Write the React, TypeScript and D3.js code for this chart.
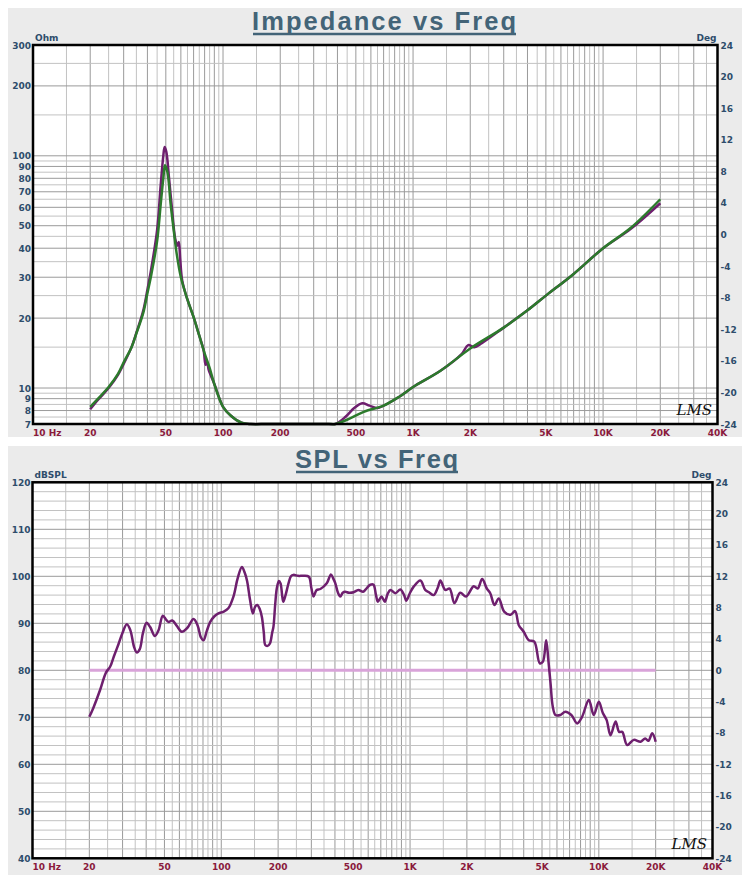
import React from 'react';
import * as d3 from 'd3';

// ---------- DATA ----------
const freqTickValues = [10, 20, 50, 100, 200, 500, 1000, 2000, 5000, 10000, 20000, 40000];
const freqTickLabels = ['10 Hz', '20', '50', '100', '200', '500', '1K', '2K', '5K', '10K', '20K', '40K'];
const ohmTickValues = [7, 8, 9, 10, 20, 30, 40, 50, 60, 70, 80, 90, 100, 200, 300];
const degTickValues = [24, 20, 16, 12, 8, 4, 0, -4, -8, -12, -16, -20, -24];
const dbTickValues = [120, 110, 100, 90, 80, 70, 60, 50, 40];

// Impedance (green) curve
const impGreenFreq = [20, 22, 25, 28, 30, 33, 35, 38, 40, 42, 45, 47, 48.5, 49.5, 51, 53, 55, 57, 60, 65, 70, 75, 80, 85, 90, 100, 110, 125, 140, 170, 220, 300, 360, 390, 466, 550, 700, 850, 1000, 1400, 2000, 3000, 4000, 5000, 7000, 10000, 14000, 20000];
const impGreenOhm = [8.3, 9.0, 10.1, 11.5, 12.9, 15.0, 17.2, 21, 25.6, 31, 43, 62, 80, 91, 85, 62, 48, 38, 30, 24, 20.2, 16.8, 14.1, 12.2, 10.4, 8.3, 7.6, 7.1, 6.8, 6.5, 6.4, 6.6, 6.9, 7.0, 7.4, 7.9, 8.4, 9.2, 10.1, 11.9, 14.8, 18.2, 21.6, 25, 31, 40, 49, 65];

// Impedance (purple) curve
const impPurpleFreq = [20, 22, 25, 28, 30, 33, 35, 38, 40, 42, 45, 47, 48.5, 49.3, 50.3, 52, 54, 56, 57.5, 58.5, 59.5, 61, 65, 70, 75, 79, 81, 82.5, 84, 86, 90, 100, 110, 125, 140, 170, 220, 300, 360, 390, 440, 490, 540, 590, 650, 700, 850, 1000, 1400, 1800, 1950, 2100, 2300, 3000, 4000, 5000, 7000, 10000, 14000, 20000];
const impPurpleOhm = [8.1, 8.9, 10.0, 11.4, 12.7, 15.0, 17.3, 21.5, 26.5, 33, 48, 75, 100, 109, 104, 80, 58, 44, 41, 42.5, 36, 29, 24, 20.2, 16.8, 14.6, 12.6, 12.9, 12.0, 11.4, 10.4, 8.3, 7.6, 7.1, 6.8, 6.5, 6.4, 6.6, 6.9, 7.0, 7.5, 8.2, 8.6, 8.4, 8.2, 8.4, 9.2, 10.1, 11.9, 14.0, 15.3, 15.0, 15.6, 18.2, 21.6, 25, 31, 40, 48.5, 62.5];

// SPL curve
const splFreq = [20, 21, 22.8, 24.5, 25.8, 27, 28.5, 30, 31.6, 33, 34.5, 35.7, 37, 38.5, 40.2, 42, 44.5, 46.5, 49, 51, 52.5, 55, 58, 61.8, 66, 71.3, 75, 78, 80.5, 84, 87.4, 92, 96.6, 103, 109, 116, 122, 128.5, 133, 137, 142, 147, 151, 155, 160, 164, 168, 171, 176, 181, 186, 189, 193, 197, 202, 206, 210, 213, 219, 227, 234, 241, 255, 273, 291, 300, 308, 320, 335, 362, 381, 392, 402, 415, 427, 440, 453, 475, 502, 532, 564, 590, 616, 640, 660, 676, 706, 735, 760, 787, 835, 889, 930, 955, 1000, 1045, 1134, 1203, 1260, 1334, 1400, 1448, 1536, 1620, 1718, 1844, 1980, 2173, 2280, 2410, 2550, 2660, 2800, 2951, 3150, 3404, 3600, 3767, 4000, 4253, 4550, 4863, 5050, 5260, 5400, 5548, 5700, 5888, 6250, 6650, 7150, 7675, 8150, 8850, 9400, 10000, 10500, 11000, 11530, 12270, 12800, 13300, 14130, 15300, 16640, 17600, 18300, 19190, 20000];
const splDb = [70.1, 72, 75.8, 79.5, 80.8, 83, 85.5, 88, 89.8, 88.5, 85, 83.8, 84.5, 88, 90.1, 89.2, 87.3, 88.5, 91.6, 90.8, 90.3, 90.6, 89.5, 88.2, 89, 90.9, 89.5, 87, 86.4, 88.5, 90.3, 91.5, 92.1, 92.5, 93.2, 95.7, 99.5, 102, 100.8, 99, 95, 92.1, 93.5, 93.9, 93, 91.4, 88, 85.4, 85.2, 85.7, 88, 89.3, 94, 97.5, 99, 98.5, 96, 94.6, 96, 98.5, 100, 100.3, 100.1, 100.1, 99.9, 97.5, 95.7, 97.1, 97.3, 98.5, 100.4, 99.5, 98.5, 96.5, 95.7, 96.5, 96.7, 96.5, 96.6, 97.1, 96.7, 97.5, 98.2, 98.2, 96, 94.6, 95.7, 94.6, 96.2, 97.1, 96.4, 97.2, 96, 94.8, 96.5, 97.8, 99.1, 97.1, 96.6, 96, 97.5, 99.1, 97.1, 97.4, 94.3, 96.5, 95.7, 97.9, 97.4, 99.4, 97.4, 96.4, 93.9, 95.3, 92.5, 91.8, 92.6, 89.6, 88.2, 86.4, 86.1, 81.5, 81.8, 86.4, 82.2, 77.2, 72.3, 70.5, 70.5, 71.2, 70.5, 68.7, 70.1, 73.7, 70.5, 73.3, 70.9, 69.4, 66.2, 69.1, 66.9, 66.9, 64.1, 65.2, 64.8, 65.5, 65, 66.6, 64.8];

// Phase (flat) line in SPL chart
const phaseFreq = [20, 20000];
const phaseDeg = [0, 0];

// ---------- HELPERS ----------
function freqGrid() {
  const out: { v: number; major: boolean }[] = [];
  for (const d of [10, 100, 1000, 10000]) {
    for (let m = 1; m < 10; m += 0.5) {
      const v = d * m;
      if (v <= 40000) out.push({ v, major: m % 1 === 0 });
    }
  }
  return out;
}
function ohmGrid() {
  const out: { v: number; major: boolean }[] = [];
  for (const d of [1, 10, 100]) {
    for (let m = 1; m < 10; m += 0.5) {
      const v = d * m;
      if (v >= 7 && v <= 300) out.push({ v, major: m % 1 === 0 });
    }
  }
  return out;
}
function dbGrid() {
  const out: { v: number; major: boolean }[] = [];
  for (let v = 40; v <= 120; v += 2) out.push({ v, major: v % 10 === 0 });
  return out;
}

const LABEL_FONT = 'DejaVu Sans, Verdana, sans-serif';
const AXIS_BLUE = '#2e4d6b';
const AXIS_RED = '#8a1a3c';
const TITLE_COL = '#436478';
const PURPLE = '#6e1f6e';
const GREEN = '#2c7a2c';
const PINK = '#d9a3d9';
const GRID_MAJOR = '#9a9a9a';
const GRID_MINOR = '#c2c2c2';

type PanelProps = {
  top: number;
  title: string;
  titleX0: number;
  titleX1: number;
  unit: string;
  plot: { x0: number; x1: number; y0: number; y1: number };
  yScale: any;
  yGrid: { v: number; major: boolean }[];
  yTicks: number[];
  children?: any;
};

function Panel(p: PanelProps & { x: any }) {
  const { plot, yScale, x } = p;
  const deg = d3.scaleLinear().domain([-24, 24]).range([plot.y1, plot.y0]);
  const fg = freqGrid();
  return (
    <g>
      <rect x={8} y={p.top} width={734} height={429} fill="#ebebeb" />
      <text
        x={p.titleX0}
        y={p.top + 22}
        textLength={p.titleX1 - p.titleX0}
        lengthAdjust="spacing"
        fontFamily="Liberation Sans, Arial, sans-serif"
        fontWeight="bold"
        fontSize={25.5}
        fill={TITLE_COL}
      >
        {p.title}
      </text>
      <line x1={p.titleX0 + 1} x2={p.titleX1} y1={p.top + 26} y2={p.top + 26} stroke={TITLE_COL} strokeWidth={2.6} />
      <rect x={plot.x0} y={plot.y0} width={plot.x1 - plot.x0} height={plot.y1 - plot.y0} fill="#ffffff" />
      {fg.map((g, i) => (
        <line key={'vx' + i} x1={x(g.v)} x2={x(g.v)} y1={plot.y0} y2={plot.y1} stroke={g.major ? GRID_MAJOR : GRID_MINOR} strokeWidth={1} />
      ))}
      {p.yGrid.map((g, i) => (
        <line key={'hy' + i} x1={plot.x0} x2={plot.x1} y1={yScale(g.v)} y2={yScale(g.v)} stroke={g.major ? GRID_MAJOR : GRID_MINOR} strokeWidth={1} />
      ))}
      {p.children}
      <rect x={plot.x0} y={plot.y0} width={plot.x1 - plot.x0} height={plot.y1 - plot.y0} fill="none" stroke="#000" strokeWidth={2.5} />
      {/* left ticks */}
      {p.yTicks.map((v, i) => (
        <text key={'yl' + i} x={plot.x0 - 2} y={yScale(v) + 3.5} textAnchor="end" fontFamily={LABEL_FONT} fontWeight="bold" fontSize={9} fill={AXIS_BLUE}>
          {v}
        </text>
      ))}
      <text x={plot.x0 + 2} y={plot.y0 - 4} fontFamily={LABEL_FONT} fontWeight="bold" fontSize={9} fill={AXIS_BLUE}>
        {p.unit}
      </text>
      {/* right ticks */}
      {degTickValues.map((v, i) => (
        <text key={'dl' + i} x={plot.x1 + 3} y={deg(v) + 3.5} fontFamily={LABEL_FONT} fontWeight="bold" fontSize={9} fill={AXIS_BLUE}>
          {v}
        </text>
      ))}
      <text x={plot.x1 - 1} y={plot.y0 - 4} textAnchor="end" fontFamily={LABEL_FONT} fontWeight="bold" fontSize={9} fill={AXIS_BLUE}>
        Deg
      </text>
      {/* bottom ticks */}
      {freqTickValues.map((v, i) => (
        <text
          key={'xl' + i}
          x={x(v)}
          y={plot.y1 + 12}
          textAnchor={i === 0 ? 'start' : 'middle'}
          fontFamily={LABEL_FONT}
          fontWeight="bold"
          fontSize={9}
          fill={AXIS_RED}
        >
          {freqTickLabels[i]}
        </text>
      ))}
      <text x={plot.x1 - 41} y={plot.y1 - 9} fontFamily="DejaVu Serif, serif" fontStyle="italic" fontSize={15} fill="#111">
        LMS
      </text>
    </g>
  );
}

export default function App() {
  // Top panel geometry
  const tp = { x0: 33, x1: 717.5, y0: 45, y1: 424 };
  const xTop = d3.scaleLog().domain([10, 40000]).range([tp.x0, tp.x1]);
  const yOhm = d3.scaleLog().domain([7, 300]).range([tp.y1, tp.y0]).clamp(true);

  // Bottom panel geometry
  const bp = { x0: 32.5, x1: 712.5, y0: 482.3, y1: 858.3 };
  const xBot = d3.scaleLog().domain([10, 40000]).range([bp.x0, bp.x1]);
  const yDb = d3.scaleLinear().domain([40, 120]).range([bp.y1, bp.y0]);
  const degBot = d3.scaleLinear().domain([-24, 24]).range([bp.y1, bp.y0]);

  const impLine = d3
    .line<[number, number]>()
    .x((d) => xTop(d[0]))
    .y((d) => yOhm(d[1]))
    .curve(d3.curveCatmullRom.alpha(0.5));
  const splLine = d3
    .line<[number, number]>()
    .x((d) => xBot(d[0]))
    .y((d) => yDb(d[1]))
    .curve(d3.curveCatmullRom.alpha(0.5));
  const phLine = d3
    .line<[number, number]>()
    .x((d) => xBot(d[0]))
    .y((d) => degBot(d[1]));

  const purplePts = impPurpleFreq.map((f, i) => [f, impPurpleOhm[i]] as [number, number]);
  const greenPts = impGreenFreq.map((f, i) => [f, impGreenOhm[i]] as [number, number]);
  const splPts = splFreq.map((f, i) => [f, splDb[i]] as [number, number]);
  const phPts = phaseFreq.map((f, i) => [f, phaseDeg[i]] as [number, number]);

  return (
    <svg width={750} height={882} style={{ position: 'absolute', left: 0, top: 0 }}>
      <rect x={0} y={0} width={750} height={882} fill="#ffffff" />
      <Panel
        top={8}
        title="Impedance vs Freq"
        titleX0={252}
        titleX1={516}
        unit="Ohm"
        plot={tp}
        x={xTop}
        yScale={yOhm}
        yGrid={ohmGrid()}
        yTicks={ohmTickValues}
      >
        <path d={impLine(purplePts) || ''} fill="none" stroke={PURPLE} strokeWidth={2.5} />
        <path d={impLine(greenPts) || ''} fill="none" stroke={GREEN} strokeWidth={2.5} />
      </Panel>
      <Panel
        top={446}
        title="SPL vs Freq"
        titleX0={295}
        titleX1={458}
        unit="dBSPL"
        plot={bp}
        x={xBot}
        yScale={yDb}
        yGrid={dbGrid()}
        yTicks={dbTickValues}
      >
        <path d={phLine(phPts) || ''} fill="none" stroke={PINK} strokeWidth={3} />
        <path d={splLine(splPts) || ''} fill="none" stroke={PURPLE} strokeWidth={2.5} />
      </Panel>
    </svg>
  );
}
